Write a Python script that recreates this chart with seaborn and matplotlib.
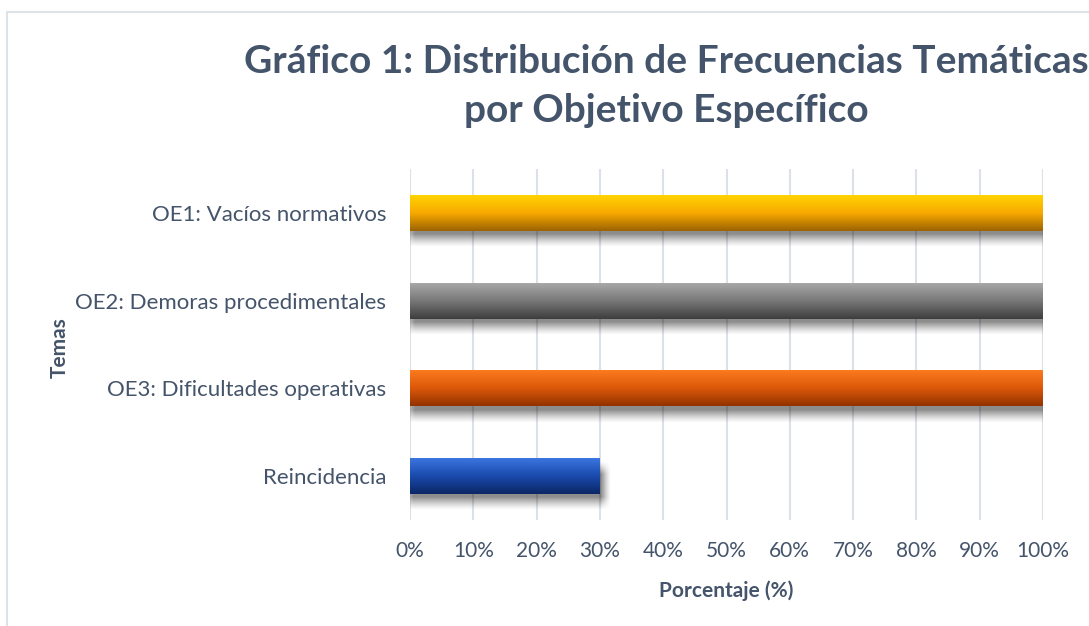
import numpy as np
import pandas as pd
import matplotlib
matplotlib.use('Agg')
import matplotlib.pyplot as plt
import seaborn as sns
from matplotlib.colors import to_rgb
from matplotlib.patches import Rectangle
from matplotlib.ticker import PercentFormatter

# Data
temas = ['OE1: Vacíos normativos', 'OE2: Demoras procedimentales',
         'OE3: Dificultades operativas', 'Reincidencia']
porcentaje = [100, 100, 100, 30]
color_top = ['#FFD400', '#A8A8A8', '#FB7B1E', '#3C75E0']
color_mid = ['#F8A800', '#777777', '#DC580A', '#1A4AAC']
color_bottom = ['#9C6400', '#3E3E3E', '#933200', '#0B2766']

text_color = '#44546A'
grid_color = '#DCE1E7'

sns.set_theme(style='white')
plt.rcParams['font.family'] = ['Lato', 'DejaVu Sans']

df = pd.DataFrame({'Temas': temas, 'Porcentaje': porcentaje})

fig = plt.figure(figsize=(10.89, 6.26), dpi=100)
ax = fig.add_axes([410 / 1089, 1 - 520 / 626, 633 / 1089, 351 / 626])

sns.barplot(data=df, x='Porcentaje', y='Temas', orient='h', hue='Temas',
            palette=color_top, width=0.41, legend=False, ax=ax, zorder=3,
            linewidth=0)

ax.set_xlim(0, 100)
ax.set_ylim(3.5, -0.5)


def soft(v, a, b, s):
    return np.clip((v - a) / s, 0, 1) * np.clip((b - v) / s, 0, 1)


# gradient fill and soft shadow for each bar
t = np.linspace(0, 1, 80)
for patch, c0, cm, c1 in zip(ax.patches, color_top, color_mid, color_bottom):
    x0, y0 = patch.get_x(), patch.get_y()
    w, h = patch.get_width(), patch.get_height()
    stops = np.array([to_rgb(c0), to_rgb(cm), to_rgb(c1)])
    col = np.stack([np.interp(t, [0, 0.5, 1], stops[:, k]) for k in range(3)], axis=1)
    img = np.repeat(col[:, None, :], 2, axis=1)
    # shadow below the bar
    nx, ny = 240, 80
    xs = np.linspace(x0 - 2.0, x0 + w + 2.5, nx)
    ys = np.linspace(y0, y0 + h + 0.22, ny)
    ax_ = soft(xs, x0 - 1.2, x0 + w + 1.8, 1.6)
    ay_ = soft(ys, y0 + 0.04, y0 + h + 0.19, 0.15)
    alpha = (ay_[:, None] * ax_[None, :]) ** 1.3 * 0.45
    sh = np.zeros((ny, nx, 4))
    sh[..., 3] = alpha
    ax.imshow(sh, extent=(xs[0], xs[-1], ys[-1], ys[0]), aspect='auto',
              zorder=2.5, interpolation='bilinear')
    im = ax.imshow(img, extent=(x0, x0 + w, y0 + h, y0), aspect='auto',
                   zorder=4, interpolation='bilinear')
    im.set_clip_path(patch)

ax.set_xlim(0, 100)
ax.set_ylim(3.5, -0.5)

ax.set_xticks(np.arange(0, 101, 10))
ax.xaxis.set_major_formatter(PercentFormatter(100, decimals=0))
ax.grid(axis='x', color=grid_color, linewidth=1.5, zorder=0)
ax.set_axisbelow(True)
for s in ax.spines.values():
    s.set_visible(False)
ax.tick_params(axis='x', length=0, pad=15, labelsize=15, labelcolor=text_color)
ax.tick_params(axis='y', length=0, pad=17, labelsize=16, labelcolor=text_color)

ax.set_xlabel('Porcentaje (%)', fontsize=15, fontweight='bold', color=text_color, labelpad=14)
ax.set_ylabel('Temas', fontsize=15, fontweight='bold', color=text_color)
ax.yaxis.set_label_coords(-0.537, 0.49)

fig.text(666 / 1089, 1 - 86 / 626,
         'Gráfico 1: Distribución de Frecuencias Temáticas\npor Objetivo Específico',
         ha='center', va='center', fontsize=28, fontweight='bold',
         color=text_color, linespacing=1.45)

# outer chart frame (partly cut off on the right and bottom)
fig.patches.append(Rectangle((7 / 1089, -0.2), 1.2, 1 - 12 / 626 + 0.2,
                             transform=fig.transFigure, fill=False,
                             edgecolor='#DDE2E7', linewidth=1.5))

fig.savefig('out.png', dpi=100)
